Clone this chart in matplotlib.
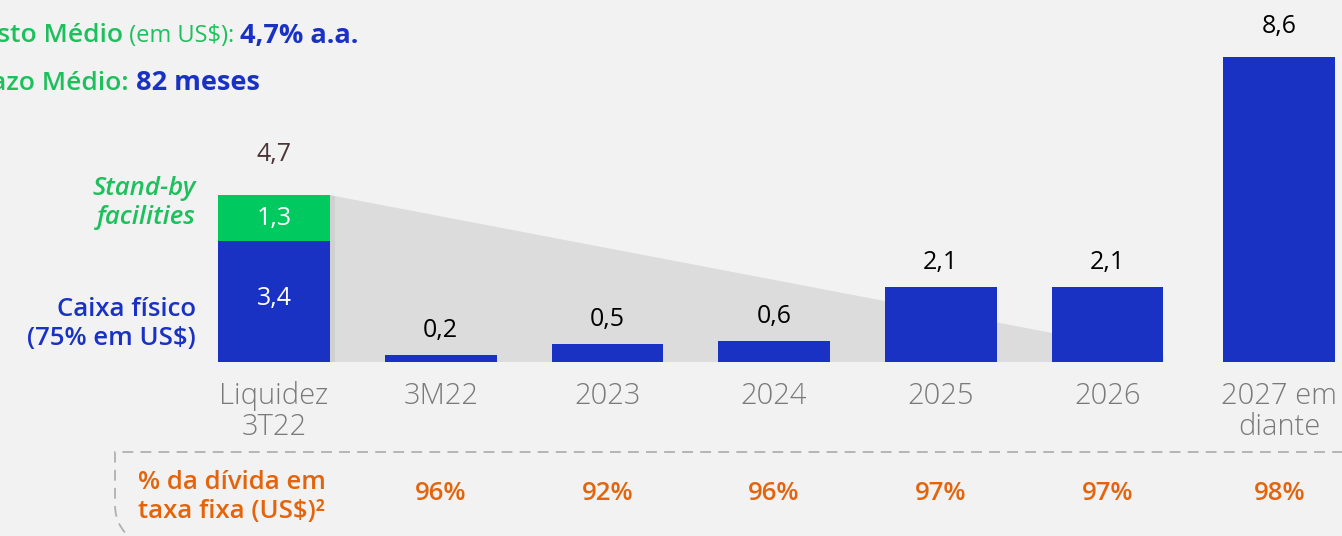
import matplotlib.pyplot as plt
from matplotlib.path import Path
from matplotlib.patches import PathPatch

# dados
categorias = ["Liquidez\n3T22", "3M22", "2023", "2024", "2025", "2026", "2027 em\ndiante"]
caixa = [3.4, 0.2, 0.5, 0.6, 2.1, 2.1, 8.6]
standby = [1.3, 0, 0, 0, 0, 0, 0]
rotulos = ["4,7", "0,2", "0,5", "0,6", "2,1", "2,1", "8,6"]
taxa_fixa = ["96%", "92%", "96%", "97%", "97%", "98%"]

AZUL = "#1a32c4"
VERDE = "#00c95f"
VERDE_TXT = "#1cc05c"
LARANJA = "#e4640c"
CINZA = "#7a7a7a"
FUNDO = "#f2f2f2"
MEDIO = "semibold"

plt.rcParams["font.family"] = ["Open Sans", "DejaVu Sans"]

W, H = 1342, 536
fig = plt.figure(figsize=(W / 100, H / 100), dpi=100, facecolor=FUNDO)
ax = fig.add_axes([0, 0, 1, 1])
ax.set_facecolor(FUNDO)
ax.axis("off")

# escala: linha de base em y=362px, 35.5 px por unidade, 166.7 px entre barras
ax.set_xlim((0 - 274) / 166.7, (W - 274) / 166.7)
ax.set_ylim((362 - H) / 35.5, 362 / 35.5)

def fx(x, y):
    return x / W, 1 - y / H

pos = [0, 1, 2, 3, 4, 5, 6.03]
larg = 0.67

# sombra cinza (queda da liquidez)
total0 = caixa[0] + standby[0]
ax.fill([pos[0] + larg / 2, pos[5] + larg / 2, pos[5] + larg / 2, pos[0] + larg / 2],
        [total0, 0.22, 0, 0], color="#dcdcdc", zorder=1, lw=0)
ax.fill([pos[0] + larg / 2, pos[0] + larg / 2 + 0.03, pos[0] + larg / 2 + 0.03, pos[0] + larg / 2],
        [total0, total0 - 0.03, 0, 0], color="#d0d0d0", zorder=1, lw=0)

ax.bar(pos, caixa, width=larg, color=AZUL, zorder=2)
ax.bar(pos, standby, width=larg, bottom=caixa, color=VERDE, zorder=2)

ax.text(pos[0], caixa[0] / 2 + 0.1, "3,4", color="white", ha="center", va="center", fontsize=18, zorder=3)
ax.text(pos[0], caixa[0] + standby[0] / 2, "1,3", color="white", ha="center", va="center", fontsize=18, zorder=3)

for i, (p, r) in enumerate(zip(pos, rotulos)):
    topo = caixa[i] + standby[i]
    cor = "#4a3434" if i == 0 else "black"
    off = 28 if i == 0 else (18 if i == 6 else 12)
    ax.annotate(r, (p, topo), xytext=(0, off), textcoords="offset pixels",
                ha="center", va="bottom", fontsize=18, color=cor)

for p, c in zip(pos, categorias):
    ax.annotate(c, (p, 0), xytext=(0, -19), textcoords="offset pixels",
                ha="center", va="top", fontsize=21, color=CINZA,
                fontweight="light", linespacing=1.08)

# rótulos da esquerda
fig.text(*fx(196, 203), "Stand-by\nfacilities", color=VERDE_TXT, ha="right", va="center",
         fontsize=18.5, style="italic", fontweight=MEDIO, linespacing=1.25)
fig.text(*fx(196, 324), "Caixa físico\n(75% em US$)", color=AZUL, ha="right", va="center",
         fontsize=18.5, fontweight=MEDIO, linespacing=1.25)

# cabeçalho
t1 = fig.text(*fx(123, 36), "Custo Médio", color=VERDE_TXT, ha="right", va="center",
              fontsize=19, fontweight=MEDIO)
t2 = ax.annotate(" (em US$): ", (1, 0), xycoords=t1, va="bottom", ha="left",
                 fontsize=17, color=VERDE_TXT)
ax.annotate("4,7% a.a.", (1, 0), xycoords=t2, va="bottom", ha="left",
            fontsize=19.5, color=AZUL, fontweight="bold")
t3 = fig.text(*fx(129, 84), "Prazo Médio:", color=VERDE_TXT, ha="right", va="center",
              fontsize=19, fontweight=MEDIO)
ax.annotate(" 82 meses", (1, 0), xycoords=t3, va="bottom", ha="left",
            fontsize=19.5, color=AZUL, fontweight="bold")

# tabela inferior
fig.text(*fx(232, 497), "% da dívida em\ntaxa fixa (US$)²", color=LARANJA, ha="center",
         va="center", fontsize=18.5, fontweight=MEDIO, linespacing=1.2)
for p, t in zip(pos[1:], taxa_fixa):
    ax.annotate(t, (p, 0), xytext=(0, -132), textcoords="offset pixels",
                ha="center", va="center", fontsize=18.5, color=LARANJA, fontweight="semibold")

verts = [fx(1400, 452), fx(115, 452), fx(115, 505), fx(115, 530), fx(140, 545)]
codes = [Path.MOVETO, Path.LINETO, Path.LINETO, Path.CURVE3, Path.CURVE3]
fig.patches.append(PathPatch(Path(verts, codes), transform=fig.transFigure, fill=False,
                             edgecolor="#b0b0b0", lw=1.3, linestyle=(0, (6, 4))))

fig.savefig("out.png", dpi=100, facecolor=FUNDO)
